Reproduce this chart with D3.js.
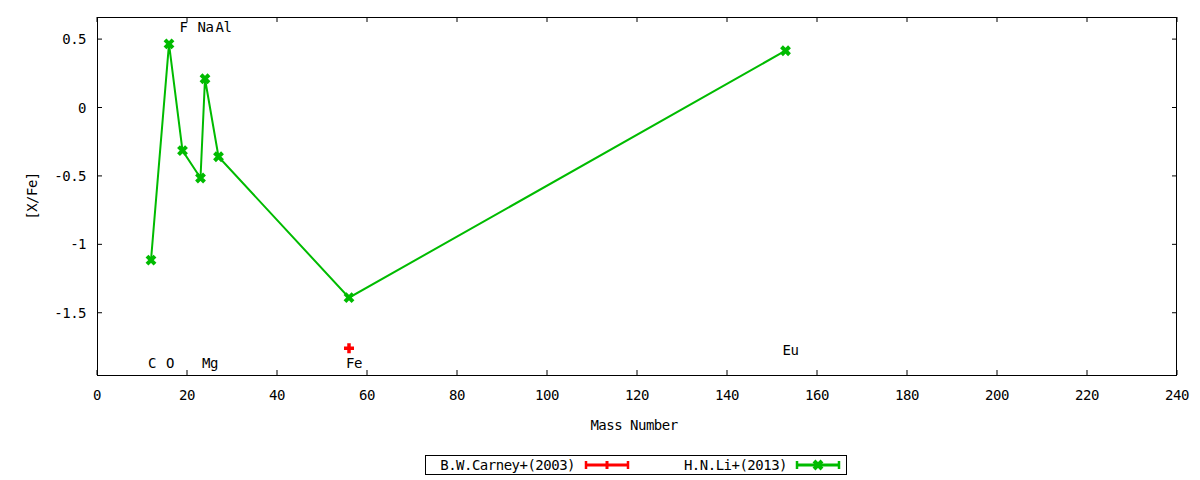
<!DOCTYPE html>
<html><head><meta charset="utf-8">
<script src="https://cdn.jsdelivr.net/npm/d3@7"></script>
<style>body{margin:0;background:#fff}svg{display:block}text{font-family:"DejaVu Sans Mono",monospace;font-size:14px;letter-spacing:-0.5px;fill:#000}</style>
</head><body>
<svg id="c" width="1200" height="480"></svg>
<script>
const liMass = [12, 16, 19, 23, 24, 27, 56, 153];
const liValue = [-1.115, 0.465, -0.315, -0.515, 0.21, -0.36, -1.39, 0.415];
const carneyMass = [56];
const carneyValue = [-1.76];
const labelText = ["C", "O", "F", "Na", "Al", "Mg", "Fe", "Eu"];
const labelMass = [12, 16, 19, 23, 27, 24, 56, 153];
const labelValue = [-1.87, -1.87, 0.59, 0.59, 0.59, -1.87, -1.87, -1.77];
const xTicks = [0, 20, 40, 60, 80, 100, 120, 140, 160, 180, 200, 220, 240];
const yTicks = [0.5, 0, -0.5, -1, -1.5];
const seriesNames = ["B.W.Carney+(2003)", "H.N.Li+(2013)"];
const seriesColors = ["#ff0000", "#00bb00"];

const svg = d3.select("#c");
const L = 97, R = 1177, T = 17, B = 375;
const x = d3.scaleLinear().domain([0, 240]).range([L, R]);
const y = d3.scaleLinear().domain([-1.955, 0.6615]).range([B, T]);

// ticks (inward, mirrored)
const tl = 5;
const g = svg.append("g");
xTicks.forEach(t => {
  g.append("line").attr("x1", x(t)).attr("x2", x(t)).attr("y1", B).attr("y2", B - tl).attr("stroke", "#000");
  g.append("line").attr("x1", x(t)).attr("x2", x(t)).attr("y1", T).attr("y2", T + tl).attr("stroke", "#000");
  g.append("text").attr("x", x(t)).attr("y", 400).attr("text-anchor", "middle").text(t);
});
yTicks.forEach(t => {
  g.append("line").attr("x1", L).attr("x2", L + tl).attr("y1", y(t)).attr("y2", y(t)).attr("stroke", "#000");
  g.append("line").attr("x1", R).attr("x2", R - tl).attr("y1", y(t)).attr("y2", y(t)).attr("stroke", "#000");
  g.append("text").attr("x", 86).attr("y", y(t) + 5).attr("text-anchor", "end").text(t);
});
svg.append("rect").attr("x", L + 0.5).attr("y", T + 0.5).attr("width", R - L - 1).attr("height", B - T).attr("fill", "none").attr("stroke", "#000");

svg.append("text").attr("x", 634).attr("y", 430).attr("text-anchor", "middle").text("Mass Number");
svg.append("text").attr("transform", "translate(37,196) rotate(-90)").attr("text-anchor", "middle").text("[X/Fe]");

// element labels
labelText.forEach((s, i) => {
  svg.append("text").attr("x", x(labelMass[i]) - 3).attr("y", y(labelValue[i]) + 5).text(s);
});

function xMark(sel, cx, cy, col) {
  const s = 4;
  sel.append("path").attr("d", `M${cx - s},${cy - s}L${cx + s},${cy + s}M${cx - s},${cy + s}L${cx + s},${cy - s}`)
    .attr("stroke", col).attr("stroke-width", 4).attr("fill", "none");
}
function plusMark(sel, cx, cy, col) {
  const s = 5;
  sel.append("path").attr("d", `M${cx - s},${cy}L${cx + s},${cy}M${cx},${cy - s}L${cx},${cy + s}`)
    .attr("stroke", col).attr("stroke-width", 3.5).attr("fill", "none");
}

// Li line
const line = d3.line().x(d => x(d[0])).y(d => y(d[1]));
const liData = liMass.map((m, i) => [m, liValue[i]]);
svg.append("path").datum(liData).attr("d", line).attr("fill", "none").attr("stroke", seriesColors[1]).attr("stroke-width", 2);
liData.forEach(d => xMark(svg, x(d[0]), y(d[1]), seriesColors[1]));

// Carney
carneyMass.forEach((m, i) => plusMark(svg, x(m), y(carneyValue[i]), seriesColors[0]));

// legend
svg.append("rect").attr("x", 425.5).attr("y", 455.5).attr("width", 421).attr("height", 19).attr("fill", "none").attr("stroke", "#000");
const legY = 465;
[[575, 586, 628], [787, 797, 839]].forEach((p, i) => {
  svg.append("text").attr("x", p[0]).attr("y", legY + 5).attr("text-anchor", "end").text(seriesNames[i]);
  const c = seriesColors[i];
  svg.append("line").attr("x1", p[1]).attr("x2", p[2]).attr("y1", legY).attr("y2", legY).attr("stroke", c).attr("stroke-width", 3);
  [p[1], p[2]].forEach(xx => svg.append("line").attr("x1", xx).attr("x2", xx).attr("y1", legY - 4).attr("y2", legY + 4).attr("stroke", c).attr("stroke-width", 2.5));
  const mid = (p[1] + p[2]) / 2;
  if (i === 0) svg.append("line").attr("x1", mid).attr("x2", mid).attr("y1", legY - 4).attr("y2", legY + 4).attr("stroke", c).attr("stroke-width", 3);
  else xMark(svg, mid, legY, c);
});
</script>
</body></html>
